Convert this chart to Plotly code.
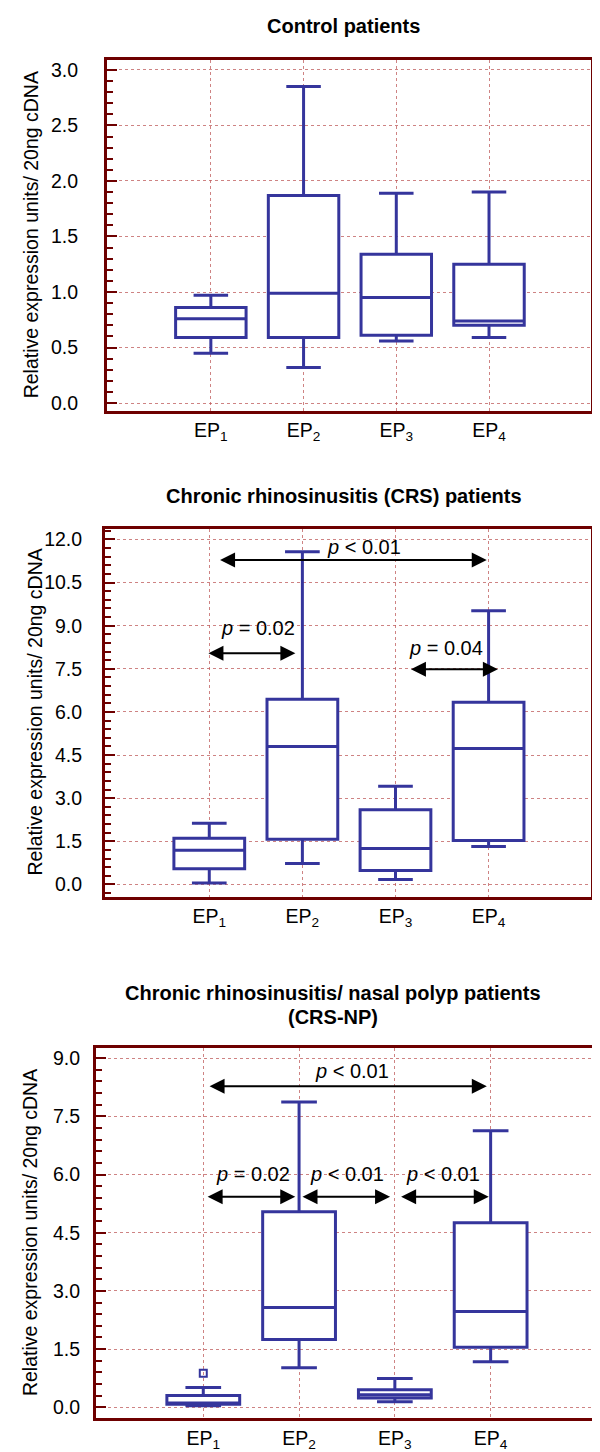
import plotly.graph_objects as go

W, H = 600, 1452

categories = ["EP<sub>1</sub>", "EP<sub>2</sub>", "EP<sub>3</sub>", "EP<sub>4</sub>"]
cat_pos = [1, 2, 3, 4]

# Control patients
ctrl_low = [0.45, 0.32, 0.56, 0.59]
ctrl_q1 = [0.59, 0.59, 0.61, 0.70]
ctrl_med = [0.76, 0.99, 0.95, 0.74]
ctrl_q3 = [0.86, 1.87, 1.34, 1.25]
ctrl_high = [0.97, 2.85, 1.89, 1.90]

# Chronic rhinosinusitis (CRS) patients
crs_low = [0.05, 0.73, 0.17, 1.32]
crs_q1 = [0.55, 1.57, 0.49, 1.53]
crs_med = [1.19, 4.80, 1.25, 4.73]
crs_q3 = [1.61, 6.44, 2.60, 6.34]
crs_high = [2.13, 11.57, 3.42, 9.52]

# Chronic rhinosinusitis / nasal polyp (CRS-NP) patients
np_low = [0.04, 1.02, 0.14, 1.17]
np_q1 = [0.08, 1.75, 0.24, 1.55]
np_med = [0.11, 2.57, 0.32, 2.47]
np_q3 = [0.30, 5.04, 0.45, 4.76]
np_high = [0.51, 7.87, 0.74, 7.13]
np_outlier_x = [1]
np_outlier_y = [0.875]

# significance annotations: (x_start, x_end, y_arrow, x_text, y_text, label)
crs_sig = [
    (1.10, 3.98, 11.29, 2.66, 11.75, "<i>p</i> &lt; 0.01"),
    (0.975, 1.925, 8.04, 1.52, 8.91, "<i>p</i> = 0.02"),
    (3.15, 4.10, 7.49, 3.54, 8.22, "<i>p</i> = 0.04"),
]
np_sig = [
    (1.05, 3.96, 8.28, 2.55, 8.68, "<i>p</i> &lt; 0.01"),
    (1.03, 1.96, 5.43, 1.52, 6.02, "<i>p</i> = 0.02"),
    (2.02, 2.95, 5.43, 2.50, 6.02, "<i>p</i> &lt; 0.01"),
    (3.05, 3.98, 5.43, 3.50, 6.02, "<i>p</i> &lt; 0.01"),
]

BOX = "#35359c"
FRAME = "#6e0000"
GRID = "rgba(190,90,90,0.75)"
FONT = "Liberation Sans, Arial, sans-serif"

panels = [
    dict(x0=99, x1=583, y0=51, y1=403, yr=[-0.07, 3.09], minor=0.1,
         tickvals=[0, 0.5, 1, 1.5, 2, 2.5, 3], standoff=22,
         data=(ctrl_low, ctrl_q1, ctrl_med, ctrl_q3, ctrl_high), sig=[],
         titles=[("<b>Control patients</b>", 335, 17)], ytitle_x=23),
    dict(x0=97, x1=583, y0=521, y1=890, yr=[-0.42, 12.38], minor=0.3,
         tickvals=[0, 1.5, 3, 4.5, 6, 7.5, 9, 10.5, 12], standoff=16,
         data=(crs_low, crs_q1, crs_med, crs_q3, crs_high), sig=crs_sig,
         titles=[("<b>Chronic rhinosinusitis (CRS) patients</b>", 336, 488)], ytitle_x=27),
    dict(x0=88, x1=588, y0=1042, y1=1413, yr=[-0.28, 9.26], minor=0.3,
         tickvals=[0, 1.5, 3, 4.5, 6, 7.5, 9], standoff=9,
         data=(np_low, np_q1, np_med, np_q3, np_high), sig=np_sig,
         titles=[("<b>Chronic rhinosinusitis/ nasal polyp patients</b>", 325, 987),
                 ("<b>(CRS-NP)</b>", 325, 1011)], ytitle_x=22),
]

fig = go.Figure()
annotations = []
layout = dict(width=W, height=H, margin=dict(l=0, r=0, t=0, b=0),
              paper_bgcolor="white", plot_bgcolor="white", showlegend=False,
              font=dict(family=FONT, size=19, color="black"))

for i, p in enumerate(panels):
    n = "" if i == 0 else str(i + 1)
    xa, ya = "x" + n, "y" + n
    low, q1, med, q3, high = p["data"]
    fig.add_trace(go.Box(
        x=cat_pos, lowerfence=low, q1=q1, median=med, q3=q3, upperfence=high,
        xaxis=xa, yaxis=ya, width=0.76, whiskerwidth=0.49,
        line=dict(color=BOX, width=3), fillcolor="white", boxpoints=False,
        hoverinfo="skip"))
    if i == 2:
        fig.add_trace(go.Scatter(
            x=np_outlier_x, y=np_outlier_y, xaxis=xa, yaxis=ya, mode="markers",
            marker=dict(symbol="square-open", size=7, color=BOX, line=dict(width=2, color=BOX)),
            hoverinfo="skip"))
    layout["xaxis" + n] = dict(
        domain=[p["x0"] / W, p["x1"] / W], range=[-0.12, 5.1], anchor=ya,
        tickvals=cat_pos, ticktext=categories, ticks="", showgrid=True,
        gridcolor=GRID, griddash="dot", gridwidth=1, zeroline=False,
        showline=True, linecolor=FRAME, linewidth=3, mirror=True,
        tickfont=dict(size=19.5, family=FONT), ticklabelstandoff=0, fixedrange=True)
    layout["yaxis" + n] = dict(
        domain=[1 - p["y1"] / H, 1 - p["y0"] / H], range=p["yr"], anchor=xa,
        tickvals=p["tickvals"], tickformat=".1f", ticks="inside", ticklen=10,
        tickwidth=2, tickcolor=FRAME, showgrid=True, gridcolor=GRID, griddash="dot",
        gridwidth=1, zeroline=False, showline=True, linecolor=FRAME, linewidth=3,
        mirror=True, tickfont=dict(size=19.5, family=FONT),
        ticklabelstandoff=p["standoff"],
        minor=dict(dtick=p["minor"], tick0=0, ticks="inside", ticklen=6, tickwidth=2,
                   tickcolor=FRAME, showgrid=False),
        fixedrange=True)
    for (t, tx, ty) in p["titles"]:
        annotations.append(dict(text=t, x=tx / W, y=1 - ty / H, xref="paper", yref="paper",
                                showarrow=False, xanchor="center", yanchor="middle",
                                font=dict(size=20, family=FONT)))
    annotations.append(dict(text="Relative expression units/ 20ng cDNA", textangle=-90,
                            x=p["ytitle_x"] / W, y=1 - (p["y0"] + p["y1"]) / 2 / H,
                            xref="paper", yref="paper", showarrow=False,
                            xanchor="center", yanchor="middle",
                            font=dict(size=19.5, family=FONT)))
    for (xs, xe, ya_, xt, yt, lab) in p["sig"]:
        annotations.append(dict(x=xe, y=ya_, ax=xs, ay=ya_, xref=xa, yref=ya, axref=xa, ayref=ya,
                                text="", showarrow=True, arrowhead=2, startarrowhead=2,
                                arrowside="end+start", arrowsize=1.5, startarrowsize=1.5,
                                arrowwidth=2, arrowcolor="black", standoff=0, startstandoff=0))
        annotations.append(dict(x=xt, y=yt, xref=xa, yref=ya, text=lab, showarrow=False,
                                xanchor="center", yanchor="middle",
                                font=dict(size=20, family=FONT, color="black")))

layout["annotations"] = annotations
fig.update_layout(**layout)
fig.write_html("out.html")
